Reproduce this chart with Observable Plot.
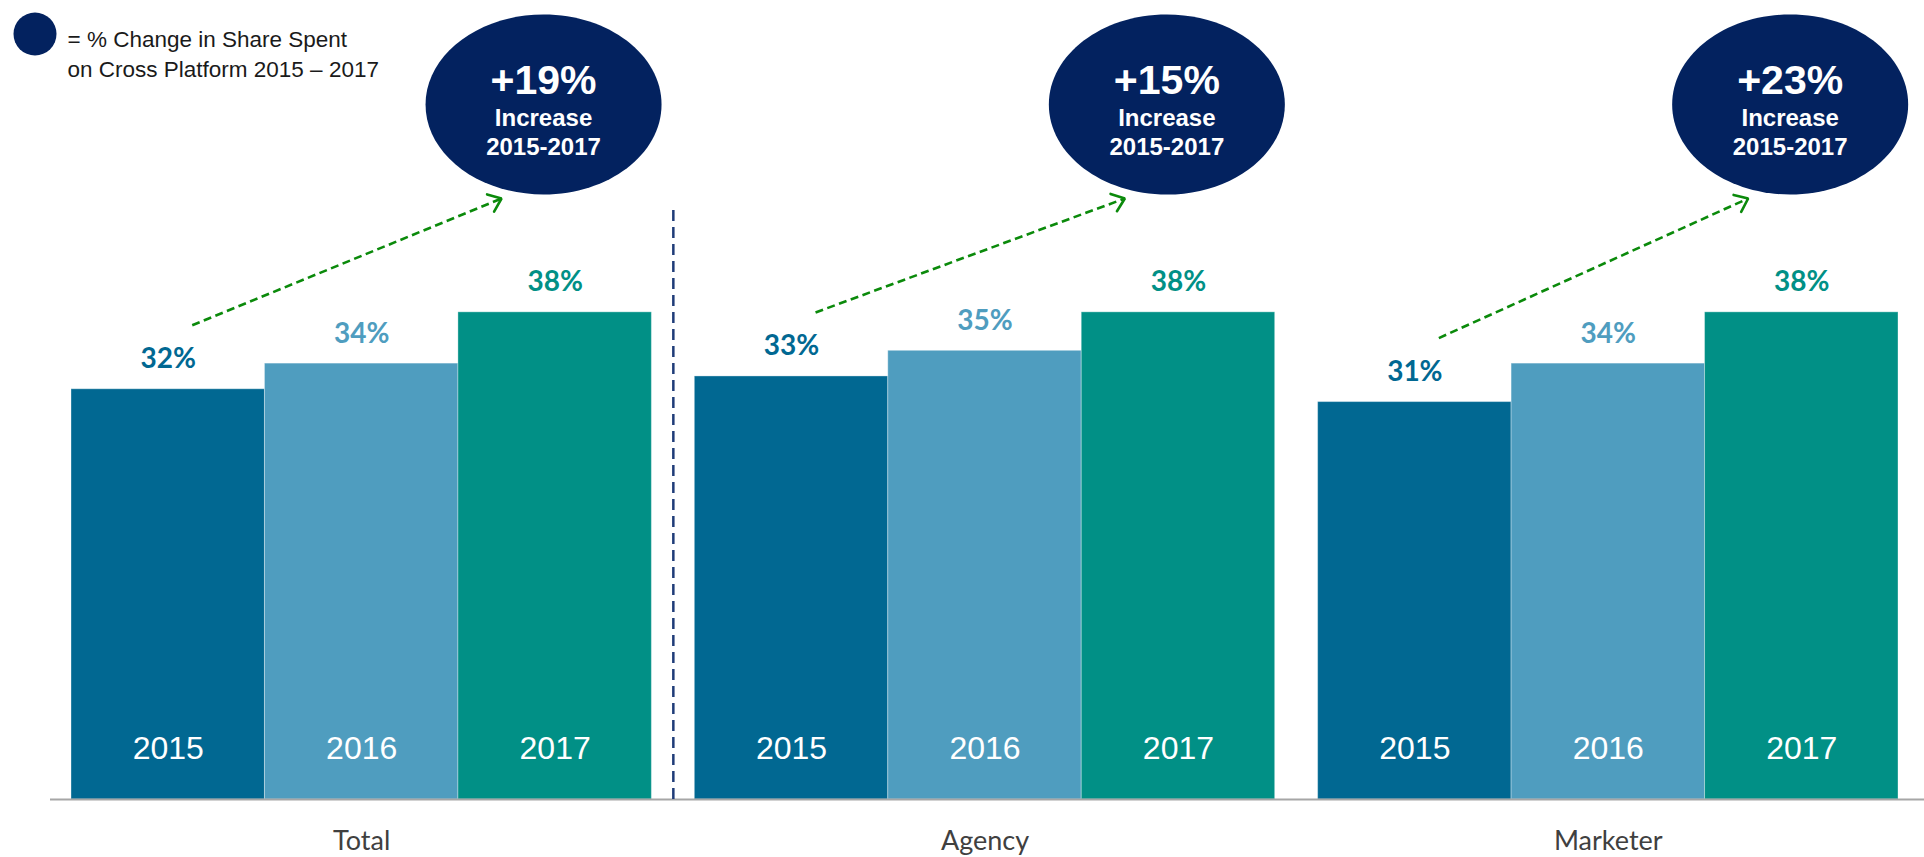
<!DOCTYPE html>
<html><head><meta charset="utf-8">
<script src="https://cdn.jsdelivr.net/npm/d3@7"></script>
<script src="https://cdn.jsdelivr.net/npm/@observablehq/plot@0.6"></script>
<style>html,body{margin:0;padding:0;background:#fff;overflow:hidden}</style>
</head><body><div id="chart"></div>
<script>
// ---- data ----
const groups = ["Total", "Agency", "Marketer"];
const years = ["2015", "2016", "2017"];
const share2015 = [32, 33, 31];
const share2016 = [34, 35, 34];
const share2017 = [38, 38, 38];
const increaseLabels = ["+19%", "+15%", "+23%"];
const bubbleLines = ["Increase", "2015-2017"];
const legendLines = ["= % Change in Share Spent", "on Cross Platform 2015 \u2013 2017"];
const yearColors = ["#016892", "#4f9dbf", "#019086"];

// ---- layout ----
const W = 1924, H = 857;
const mL = 71, mR = 26, mT = 0, mB = 58;
const GAP = 0.222;                 // gap between groups in bar widths
const step = 3 + GAP;
const xMax = 3 * 3 + 2 * GAP;
const ky = 12.82;                  // px per percentage point
const yMax = (H - mT - mB) / ky;
const kx = (W - mL - mR) / xMax;   // px per bar width
const pxY = p => yMax - (p - mT) / ky;  // pixel row -> data y

const rows = [];
groups.forEach((g, gi) => {
  [share2015, share2016, share2017].forEach((arr, yi) => {
    rows.push({group: g, year: years[yi], value: arr[gi],
      x1: gi * step + yi, x2: gi * step + yi + 1, xc: gi * step + yi + 0.5});
  });
});
const groupRows = groups.map((g, gi) => ({group: g, x: gi * step + 1.5}));

const bubbleY = pxY(104);
const bubbles = groups.map((g, gi) => ({group: g, label: increaseLabels[gi], x: gi * step + 2.44, y: bubbleY}));

// arrows from above the 2015 label to the bubble
const shafts = [], heads = [];
groups.forEach((g, gi) => {
  const sx = gi * step + 0.5 + 24 / kx, sy = share2015[gi] + 64 / ky;
  const ex = bubbles[gi].x - 42 / kx, ey = bubbleY - 94 / ky;
  shafts.push({group: g, x1: sx, y1: sy, x2: ex, y2: ey});
  const a = Math.atan2(-(ey - sy) * ky, (ex - sx) * kx);
  const L = 15, wa = 38 * Math.PI / 180;
  [a + wa, null, a - wa].forEach(t => {
    if (t === null) heads.push({group: g, x: ex, y: ey});
    else heads.push({group: g, x: ex - L * Math.cos(t) / kx, y: ey + L * Math.sin(t) / ky});
  });
});

const navy = "#03225f";
const green = "#0b8a0b";
const arial = "'Liberation Sans', Arial, sans-serif";
const lato = "Lato, 'Open Sans', sans-serif";

// custom ellipse symbol for the bubbles
const K = 0.5523;
const ellipse = aspect => ({
  draw(ctx, size) {
    const rx = Math.sqrt(size / Math.PI), ry = rx * aspect;
    ctx.moveTo(rx, 0);
    ctx.bezierCurveTo(rx, K * ry, K * rx, ry, 0, ry);
    ctx.bezierCurveTo(-K * rx, ry, -rx, K * ry, -rx, 0);
    ctx.bezierCurveTo(-rx, -K * ry, -K * rx, -ry, 0, -ry);
    ctx.bezierCurveTo(K * rx, -ry, rx, -K * ry, rx, 0);
    ctx.closePath();
  }
});

const chart = Plot.plot({
  width: W, height: H,
  marginLeft: mL, marginRight: mR, marginTop: mT, marginBottom: mB,
  x: {domain: [0, xMax], axis: null},
  y: {domain: [0, yMax], axis: null},
  color: {domain: years, range: yearColors},
  style: {background: "#fff", fontFamily: arial, overflow: "visible"},
  marks: [
    Plot.rectY(rows, {x1: "x1", x2: "x2", y: "value", fill: "year", stroke: "#ffffff", strokeOpacity: 0.35, strokeWidth: 1}),
    Plot.ruleY([0], {x1: -21 / kx, x2: xMax + 26 / kx, stroke: "#a6a6a6", strokeWidth: 2}),
    Plot.ruleX([3 + GAP / 2], {y1: 0, y2: pxY(205), stroke: "#1f3c78", strokeWidth: 2.5, strokeDasharray: "11,6"}),
    Plot.text(rows, {x: "xc", y: "value", text: d => d.value + "%", fill: "year", dy: -21, lineAnchor: "bottom",
      fontFamily: lato, fontWeight: 700, fontSize: 28}),
    Plot.text(rows, {x: "xc", y: 0, text: "year", fill: "white", dy: -41, lineAnchor: "bottom",
      fontFamily: arial, fontSize: 32}),
    Plot.text(groupRows, {x: "x", y: 0, text: "group", fill: "#404040", dy: 50, lineAnchor: "bottom",
      fontFamily: lato, fontSize: 27}),
    Plot.link(shafts, {x1: "x1", y1: "y1", x2: "x2", y2: "y2", stroke: green, strokeWidth: 2.6, strokeDasharray: "8,4.5"}),
    Plot.line(heads, {x: "x", y: "y", z: "group", stroke: green, strokeWidth: 2.6, strokeLinejoin: "miter"}),
    Plot.dot(bubbles, {x: "x", y: "y", r: 118, symbol: ellipse(90 / 118), fill: navy, stroke: "none"}),
    Plot.text(bubbles, {x: "x", y: "y", text: "label", fill: "white", dy: -11, lineAnchor: "bottom",
      fontFamily: arial, fontWeight: 700, fontSize: 41}),
    Plot.text(bubbles, {x: "x", y: "y", text: () => bubbleLines[0], fill: "white", dy: 21, lineAnchor: "bottom",
      fontFamily: arial, fontWeight: 700, fontSize: 24}),
    Plot.text(bubbles, {x: "x", y: "y", text: () => bubbleLines[1], fill: "white", dy: 50, lineAnchor: "bottom",
      fontFamily: arial, fontWeight: 700, fontSize: 24}),
    // legend
    Plot.dot([0], {x: (34.5 - mL) / kx, y: pxY(33.5), r: 21.5, fill: navy, stroke: "none"}),
    Plot.text([legendLines.join("\n")], {frameAnchor: "top-left", text: d => d, dx: -4, dy: 26.2,
      textAnchor: "start", lineAnchor: "top", lineHeight: 1.3, fontFamily: arial, fontSize: 22.5, fill: "#1a1a1a"})
  ]
});
document.getElementById("chart").appendChild(chart);
</script>
</body></html>
